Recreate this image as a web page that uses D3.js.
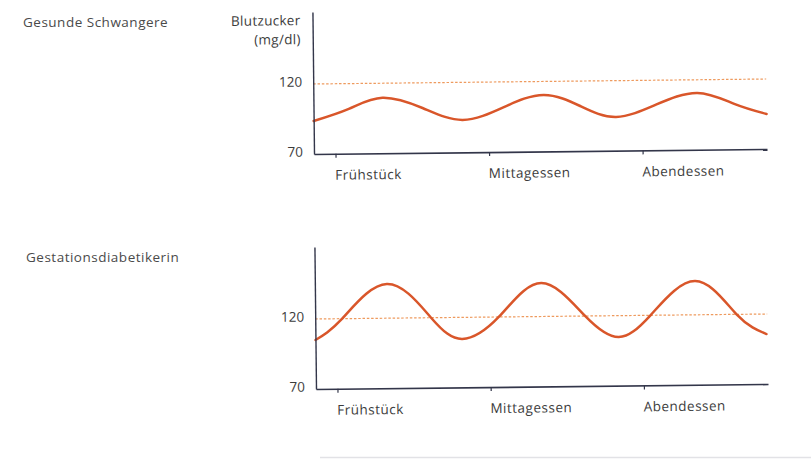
<!DOCTYPE html>
<html><head><meta charset="utf-8">
<script src="https://cdn.jsdelivr.net/npm/d3@7"></script>
<style>body{margin:0;background:#fff}svg{display:block}</style>
</head><body><svg id="c" width="811" height="460"></svg>
<script>
// ---- data ----
const panelTitles = ["Gesunde Schwangere", "Gestationsdiabetikerin"];
const yAxisTitle = ["Blutzucker", "(mg/dl)"];
const mealLabels = ["Frühstück", "Mittagessen", "Abendessen"];
const mealTimes = [7, 12, 17];          // hour of day
const yTickValues = [70, 120];
const threshold = 120;                   // mg/dl
const timeDomain = [6.3, 21.05];
const valueDomain = [70, 171.4];

const healthyTime  = [6.3, 7.45, 8.55, 9.85, 11.15, 12.5, 13.8, 15.0, 16.15, 17.45, 18.8, 20.0, 21.05];
const healthyValue = [93.6, 102, 109.6, 102, 93.2, 102, 110.4, 102, 94.1, 102.5, 110.6, 102.5, 95];

const gdmTime  = [6.3, 7.18, 8.65, 10.08, 11.09, 12.29, 13.69, 15.13, 16.2, 17.24, 18.71, 20.05, 21.02];
const gdmValue = [105, 120, 144.4, 120, 104.6, 120, 143.9, 119.5, 104.7, 120, 144.1, 120, 105.7];

// ---- layout ----
const panels = [
  {title: panelTitles[0], tx: 23, ty: 22, ox: 314, oy: 154, w: 453, h: 142,
   t: healthyTime, v: healthyValue, showYTitle: true},
  {title: panelTitles[1], tx: 26, ty: 257, ox: 316, oy: 389, w: 452, h: 142,
   t: gdmTime, v: gdmValue, showYTitle: false}
];
const tilt = -0.63;
const font = "'Open Sans', 'DejaVu Sans', sans-serif";
const textCol = "#3c3c3c";
const axisCol = "#33364a";
const curveCol = "#d9562a";
const dashCol = "#ee9a5e";
const fs = 13.5, ls = 0.5;

const svg = d3.select("#c");

// faint scan edge line at the bottom
svg.append("line").attr("x1", 320).attr("x2", 811).attr("y1", 457.5).attr("y2", 457.5)
  .attr("stroke", "#e2e2e6").attr("stroke-width", 1.5);

panels.forEach(p => {
  svg.append("text").attr("x", p.tx).attr("y", p.ty)
    .attr("dominant-baseline", "central")
    .attr("font-family", font).attr("font-size", fs).attr("letter-spacing", ls)
    .attr("fill", "#4a4a4a")
    .text(p.title);

  const g = svg.append("g").attr("transform", `translate(${p.ox},${p.oy}) rotate(${tilt})`);
  const x = d3.scaleLinear().domain(timeDomain).range([0, p.w]);
  const y = d3.scaleLinear().domain(valueDomain).range([0, -p.h]);

  // threshold dashed line
  g.append("line").attr("x1", x(timeDomain[0])).attr("x2", x(timeDomain[1]))
    .attr("y1", y(threshold)).attr("y2", y(threshold))
    .attr("stroke", dashCol).attr("stroke-width", 1.2).attr("stroke-dasharray", "2.5,1.8");

  // curve
  const pts = p.t.map((t, i) => [t, p.v[i]]);
  g.append("path").datum(pts)
    .attr("d", d3.line().x(d => x(d[0])).y(d => y(d[1])).curve(d3.curveNatural))
    .attr("fill", "none").attr("stroke", curveCol).attr("stroke-width", 2.5)
    .attr("stroke-linecap", "round");

  // x axis
  const xa = g.append("g").call(
    d3.axisBottom(x).tickValues(mealTimes).tickFormat((d, i) => mealLabels[i])
      .tickSize(4).tickSizeOuter(0));
  xa.select(".domain").attr("stroke", axisCol).attr("stroke-width", 1.6);
  xa.selectAll(".tick line").attr("stroke", axisCol).attr("stroke-width", 1.2);
  xa.selectAll(".tick text").attr("text-anchor", "start").attr("x", -1).attr("y", 21)
    .attr("dy", null).attr("dominant-baseline", "central")
    .attr("font-family", font).attr("font-size", fs).attr("letter-spacing", ls)
    .attr("fill", textCol);

  // y axis
  const ya = g.append("g").call(
    d3.axisLeft(y).tickValues(yTickValues).tickSize(0).tickSizeOuter(0).tickPadding(11));
  ya.select(".domain").attr("stroke", axisCol).attr("stroke-width", 1.4);
  ya.selectAll(".tick text").attr("dy", null).attr("y", -3).attr("dominant-baseline", "central")
    .attr("font-family", font).attr("font-size", fs).attr("fill", textCol);

  if (p.showYTitle) {
    yAxisTitle.forEach((s, i) => {
      g.append("text").attr("x", -12).attr("y", -134 + i * 19)
        .attr("text-anchor", "end").attr("dominant-baseline", "central")
        .attr("font-family", font).attr("font-size", fs).attr("letter-spacing", 0.3)
        .attr("fill", textCol)
        .text(s);
    });
  }
});
</script>
</body></html>
